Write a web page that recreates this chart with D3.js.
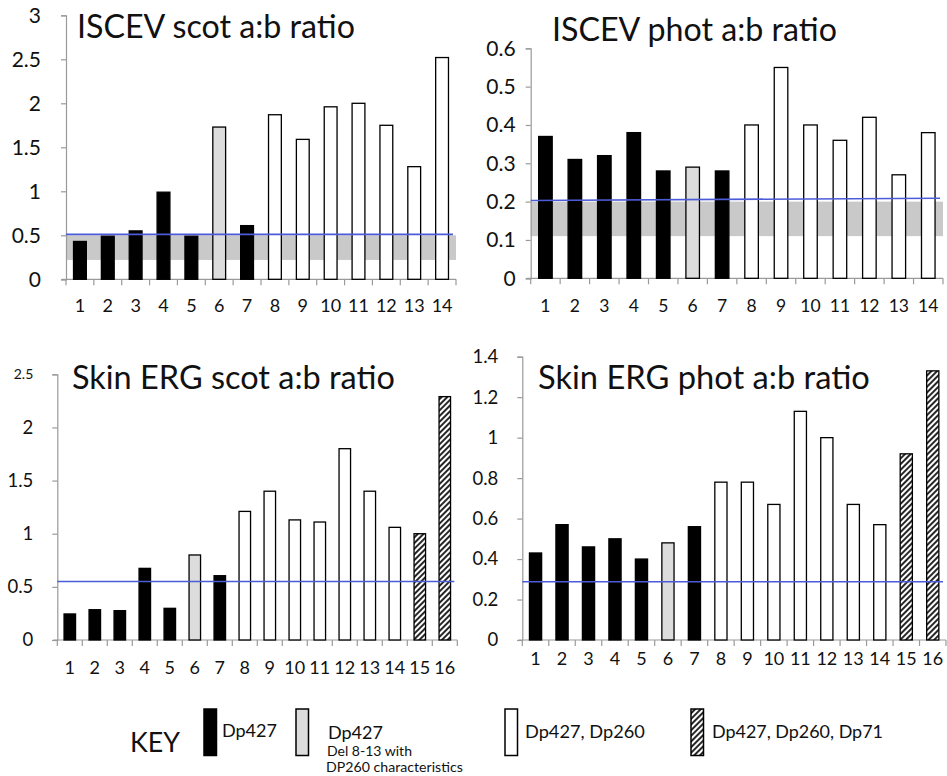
<!DOCTYPE html>
<html>
<head>
<meta charset="utf-8">
<script src="https://cdn.jsdelivr.net/npm/d3@7"></script>
<style>
  html, body { margin: 0; padding: 0; background: #fff; }
  svg { display: block; font-family: Lato, "Open Sans", sans-serif; }
</style>
</head>
<body>
<svg id="chart" width="947" height="776"></svg>
<script>
// ---------------- DATA ----------------
const categories14 = ["1","2","3","4","5","6","7","8","9","10","11","12","13","14"];
const categories16 = ["1","2","3","4","5","6","7","8","9","10","11","12","13","14","15","16"];

// genotype group of each patient
const groups14 = ["Dp427","Dp427","Dp427","Dp427","Dp427","Dp427 Del 8-13","Dp427",
  "Dp427, Dp260","Dp427, Dp260","Dp427, Dp260","Dp427, Dp260","Dp427, Dp260","Dp427, Dp260","Dp427, Dp260"];
const groups16 = groups14.concat(["Dp427, Dp260, Dp71","Dp427, Dp260, Dp71"]);

const iscevScot = [0.43, 0.49, 0.55, 0.99, 0.49, 1.73, 0.61, 1.87, 1.59, 1.96, 2.00, 1.75, 1.28, 2.52];
const iscevPhot = [0.37, 0.31, 0.32, 0.38, 0.28, 0.29, 0.28, 0.40, 0.55, 0.40, 0.36, 0.42, 0.27, 0.38];
const skinScot  = [0.245, 0.285, 0.276, 0.674, 0.298, 0.80, 0.605, 1.21, 1.40, 1.13, 1.11, 1.80, 1.40, 1.06, 1.00, 2.29];
const skinPhot  = [0.43, 0.57, 0.46, 0.50, 0.40, 0.48, 0.56, 0.78, 0.78, 0.67, 1.13, 1.00, 0.67, 0.57, 0.92, 1.33];

// normal range (grey band) and reference line (start, end)
const iscevScotRange = [0.22, 0.50];
const iscevPhotRange = [0.11, 0.20];
const iscevScotRef = [0.51, 0.51];
const iscevPhotRef = [0.203, 0.209];
const skinScotRef  = [0.55, 0.55];
const skinPhotRef  = [0.288, 0.288];

// y tick values / labels
const ticksIscevScot = [0, 0.5, 1, 1.5, 2, 2.5, 3];
const labelsIscevScot = ["0","0.5","1","1.5","2","2.5","3"];
const ticksIscevPhot = [0, 0.1, 0.2, 0.3, 0.4, 0.5, 0.6];
const labelsIscevPhot = ["0","0.1","0.2","0.3","0.4","0.5","0.6"];
const ticksSkinScot = [0, 0.5, 1, 1.5, 2, 2.5];
const labelsSkinScot = ["0","0.5","1","1.5","2","2.5"];
const ticksSkinPhot = [0, 0.2, 0.4, 0.6, 0.8, 1, 1.2, 1.4];
const labelsSkinPhot = ["0","0.2","0.4","0.6","0.8","1","1.2","1.4"];

const titles = ["ISCEV scot a:b ratio", "ISCEV phot a:b ratio", "Skin ERG scot a:b ratio", "Skin ERG phot a:b ratio"];

const keyGroups = ["Dp427", "Dp427 Del 8-13", "Dp427, Dp260", "Dp427, Dp260, Dp71"];
const keyLabels = ["Dp427", "Dp427", "Dp427, Dp260", "Dp427, Dp260, Dp71"];
const keySubLabels = ["Del 8-13 with", "DP260 characteristics"];

// ---------------- STYLE / LAYOUT ----------------
const fills = {
  "Dp427": "#000000",
  "Dp427 Del 8-13": "#dcdcdc",
  "Dp427, Dp260": "#ffffff",
  "Dp427, Dp260, Dp71": "url(#hatch)"
};
const axisColor = "#9a9a9a";
const bandColor = "#c9c9c9";
const refColor = "#4c5bd8";

const svg = d3.select("#chart");
const defs = svg.append("defs");
const pat = defs.append("pattern")
  .attr("id", "hatch").attr("patternUnits", "userSpaceOnUse")
  .attr("width", 4).attr("height", 4)
  .attr("patternTransform", "rotate(45)");
pat.append("rect").attr("width", 4).attr("height", 4).attr("fill", "#fff");
pat.append("line").attr("x1", 1).attr("y1", 0).attr("x2", 1).attr("y2", 4)
  .attr("stroke", "#000").attr("stroke-width", 1.7);

const panels = [
  { values: iscevScot, cats: categories14, groups: groups14, ticks: ticksIscevScot, labels: labelsIscevScot,
    range: iscevScotRange, ref: iscevScotRef, title: titles[0],
    x0: 66, x1: 456, yBase: 279.3, yTop: 15.3, yLabelSize: 21, yLabelGap: 20, xLabelSize: 18, xLabelY: 311.5,
    tX: 77, tY: 37.5, tW: 278 },
  { values: iscevPhot, cats: categories14, groups: groups14, ticks: ticksIscevPhot, labels: labelsIscevPhot,
    range: iscevPhotRange, ref: iscevPhotRef, title: titles[1],
    x0: 530.7, x1: 943, yBase: 278.3, yTop: 48.3, yLabelSize: 21, yLabelGap: 10, xLabelSize: 17.5, xLabelY: 311.5,
    tX: 552, tY: 40.5, tW: 285 },
  { values: skinScot, cats: categories16, groups: groups16, ticks: ticksSkinScot, labels: labelsSkinScot,
    range: null, ref: skinScotRef, title: titles[2],
    x0: 57.3, x1: 457.3, yBase: 640, yTop: 374.3, yLabelSize: 18.5, yLabelGap: 19, xLabelSize: 18, xLabelY: 673.5,
    tX: 72, tY: 388.5, tW: 323, smallTop: 14 },
  { values: skinPhot, cats: categories16, groups: groups16, ticks: ticksSkinPhot, labels: labelsSkinPhot,
    range: null, ref: skinPhotRef, title: titles[3],
    x0: 522.3, x1: 946, yBase: 640, yTop: 356.7, yLabelSize: 18.5, yLabelGap: 19, xLabelSize: 18, xLabelY: 665,
    tX: 538, tY: 388.5, tW: 332 }
];

function fitWidth(textSel, target) {
  const node = textSel.node();
  const size = parseFloat(textSel.attr("font-size"));
  const len = node.getComputedTextLength();
  if (len > 0) textSel.attr("font-size", (size * target / len).toFixed(2));
}

panels.forEach(p => {
  const g = svg.append("g");
  const domainMax = p.ticks[p.ticks.length - 1];
  const y = d3.scaleLinear().domain([0, domainMax]).range([p.yBase, p.yTop]);
  const x = d3.scaleBand().domain(p.cats).range([p.x0, p.x1]).paddingInner(0.54).paddingOuter(0.27);
  const xEdges = d3.scaleBand().domain(p.cats).range([p.x0, p.x1]).padding(0);

  // normal range band
  if (p.range) {
    g.append("rect")
      .attr("x", p.x0).attr("width", p.x1 - p.x0)
      .attr("y", y(p.range[1])).attr("height", y(p.range[0]) - y(p.range[1]))
      .attr("fill", bandColor);
  }

  // y axis
  const yAxis = g.append("g").attr("transform", `translate(${p.x0},0)`)
    .call(d3.axisLeft(y).tickValues(p.ticks).tickFormat((d, i) => p.labels[i]).tickSize(5).tickPadding(p.yLabelGap));
  yAxis.select(".domain").attr("stroke", axisColor).attr("stroke-width", 1.2);
  yAxis.selectAll(".tick line").attr("stroke", axisColor).attr("stroke-width", 1.2);
  yAxis.selectAll(".tick text").attr("font-size", p.yLabelSize).attr("fill", "#111")
    .attr("font-family", "Lato, sans-serif");
  if (p.smallTop) {
    yAxis.selectAll(".tick text").filter((d) => d === domainMax).attr("font-size", p.smallTop);
  }

  // x axis (ticks at band edges)
  const xAxisG = g.append("g").attr("transform", `translate(0,${p.yBase})`);
  xAxisG.append("line").attr("x1", p.x0 - 4).attr("x2", p.x1)
    .attr("stroke", axisColor).attr("stroke-width", 1.2);
  const edges = p.cats.map(c => xEdges(c)).concat([p.x1]);
  xAxisG.selectAll("line.edge").data(edges).join("line").attr("class", "edge")
    .attr("x1", d => d).attr("x2", d => d).attr("y1", 0).attr("y2", 6)
    .attr("stroke", axisColor).attr("stroke-width", 1.2);
  g.selectAll("text.xl").data(p.cats).join("text").attr("class", "xl")
    .attr("x", d => x(d) + x.bandwidth() / 2).attr("y", p.xLabelY)
    .attr("text-anchor", "middle").attr("font-size", p.xLabelSize).attr("fill", "#111")
    .text(d => d);

  // bars
  g.selectAll("rect.bar").data(p.values).join("rect").attr("class", "bar")
    .attr("x", (d, i) => x(p.cats[i]))
    .attr("width", x.bandwidth())
    .attr("y", d => y(d))
    .attr("height", d => p.yBase - y(d))
    .attr("fill", (d, i) => fills[p.groups[i]])
    .attr("stroke", "#000").attr("stroke-width", 1.3);

  // reference line
  g.append("line")
    .attr("x1", p.x0).attr("x2", p.x1 - 3)
    .attr("y1", y(p.ref[0])).attr("y2", y(p.ref[1]))
    .attr("stroke", refColor).attr("stroke-width", 1.6);

  // title
  const t = g.append("text").attr("x", p.tX).attr("y", p.tY)
    .attr("font-size", 32).attr("fill", "#111").text(p.title);
  fitWidth(t, p.tW);
});

// ---------------- KEY ----------------
const key = svg.append("g");
const kt = key.append("text").attr("x", 130).attr("y", 752).attr("font-size", 30).attr("fill", "#111").text("KEY");
fitWidth(kt, 50);

const keyBoxX = [204, 296, 505, 691];
const keyTextX = [222, 328, 525, 712];
const keyTextY = [737, 738.5, 738, 738];
const keyTextW = [55, 55, 120, 171];
keyGroups.forEach((grp, i) => {
  key.append("rect").attr("x", keyBoxX[i]).attr("y", 709).attr("width", 12.5).attr("height", 46.5)
    .attr("fill", fills[grp]).attr("stroke", "#000").attr("stroke-width", 1.5);
  const tt = key.append("text").attr("x", keyTextX[i]).attr("y", keyTextY[i])
    .attr("font-size", 19).attr("fill", "#111").text(keyLabels[i]);
  fitWidth(tt, keyTextW[i]);
});
const s1 = key.append("text").attr("x", 327).attr("y", 756).attr("font-size", 14).attr("fill", "#111").text(keySubLabels[0]);
fitWidth(s1, 85);
const s2 = key.append("text").attr("x", 326).attr("y", 772).attr("font-size", 14).attr("fill", "#111").text(keySubLabels[1]);
fitWidth(s2, 137);
</script>
</body>
</html>
